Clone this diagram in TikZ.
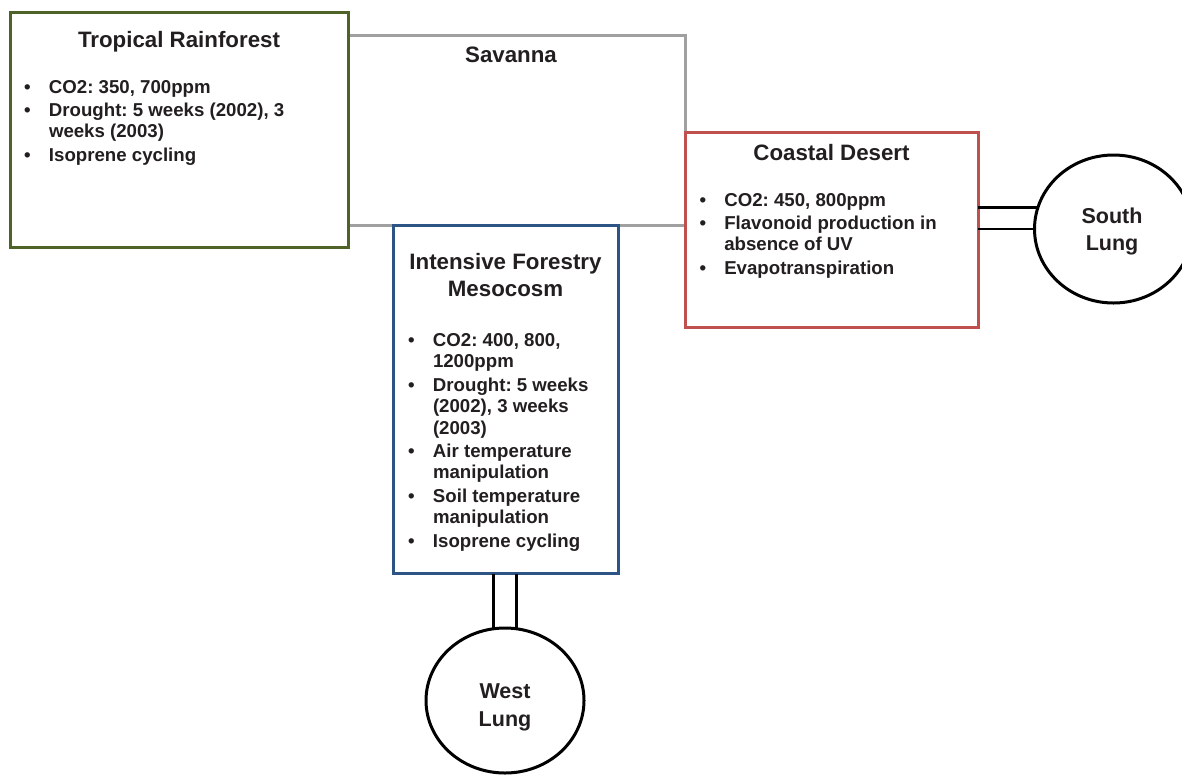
\documentclass[tikz,border=0pt]{standalone}
\usepackage{fontspec}
\setmainfont{Liberation Sans}
\usetikzlibrary{shapes.geometric}
\frenchspacing
\definecolor{rfgreen}{HTML}{4F6228}
\definecolor{fblue}{HTML}{2C5585}
\definecolor{cdred}{HTML}{C0504D}
\definecolor{svgray}{HTML}{A0A0A0}
\definecolor{txtcol}{HTML}{231F20}
\newcommand{\itemlist}[1]{{\fontsize{18.65}{21.2}\selectfont\frenchspacing\begin{tabular}[t]{@{}p{24.8pt}@{}l@{}}#1\end{tabular}}}
\newcommand{\twolines}[4]{{\fontsize{#3}{#4}\selectfont\begin{tabular}[t]{@{}c@{}}#1\\#2\end{tabular}}}
\begin{document}
\begin{tikzpicture}[x=1pt,y=-1pt,
  box/.style={draw, line width=3pt, fill=white, inner sep=0pt, outer sep=0pt, anchor=north west},
  lung/.style={draw=black, line width=3pt, fill=white, ellipse, inner sep=0pt, outer sep=0pt, minimum width=158pt},
  conn/.style={draw=black, line width=2.5pt},
  title/.style={inner sep=0pt, anchor=base, text=txtcol, font=\bfseries\fontsize{22.3}{26.7}\selectfont},
  listtext/.style={inner sep=0pt, anchor=base west, text=txtcol, font=\bfseries},
  lungtext/.style={inner sep=0pt, anchor=base, text=txtcol, font=\bfseries}]
\useasboundingbox (0,0) rectangle (1182,774);
% Savanna (behind)
\node[box, draw=svgray, minimum width=337pt, minimum height=190pt] (savanna) at (348,35) {};
% Boxes
\node[box, draw=rfgreen, minimum width=337.5pt, minimum height=235pt] (rainforest) at (10.5,12.5) {};
\node[box, draw=cdred, minimum width=293pt, minimum height=195pt] (coastal) at (685,132) {};
\node[box, draw=fblue, minimum width=225pt, minimum height=348.5pt] (forestry) at (393,225) {};
% Lungs
\node[lung, minimum height=148pt] (south) at (1113.5,229) {};
\node[lung, minimum height=145pt] (west) at (505,700.5) {};
% Connectors
\draw[conn] (coastal.east |- south.west) -- (south.west);
\draw[conn] (coastal.east |- south.164) -- (south.164);
\draw[conn] (forestry.south -| west.99) -- (west.99);
\draw[conn] (forestry.south -| west.81) -- (west.81);
% Texts
\node[title] (rftitle) at (179,47) {Tropical Rainforest};
\node[listtext] (rflist) at (24,93) {\itemlist{\textbullet & CO2: 350, 700ppm\\[2.5pt]
\textbullet & Drought: 5 weeks (2002), 3\\
 & weeks (2003)\\[2.5pt]
\textbullet & Isoprene cycling}};
\node[title] (savlabel) at (511,62.7) {Savanna};
\node[title] (cdtitle) at (831.5,160) {Coastal Desert};
\node[listtext] (cdlist) at (699.3,206) {\itemlist{\textbullet & CO2: 450, 800ppm\\[2.5pt]
\textbullet & Flavonoid production in\\
 & absence of UV\\[2.5pt]
\textbullet & Evapotranspiration}};
\node[title] (iftitle) at (505.5,269.3) {\twolines{Intensive Forestry}{Mesocosm}{22.3}{26.7}};
\node[listtext] (iflist) at (408,346.7) {\itemlist{\textbullet & CO2: 400, 800,\\
 & 1200ppm\\[2.5pt]
\textbullet & Drought: 5 weeks\\
 & (2002), 3 weeks\\
 & (2003)\\[2.5pt]
\textbullet & Air temperature\\
 & manipulation\\[2.5pt]
\textbullet & Soil temperature\\
 & manipulation\\[2.5pt]
\textbullet & Isoprene cycling}};
\node[lungtext] (southtext) at (1112,223.3) {\twolines{South}{Lung}{21.5}{26.7}};
\node[lungtext] (westtext) at (505,698.3) {\twolines{West}{Lung}{21.5}{27.7}};
\end{tikzpicture}
\end{document}
